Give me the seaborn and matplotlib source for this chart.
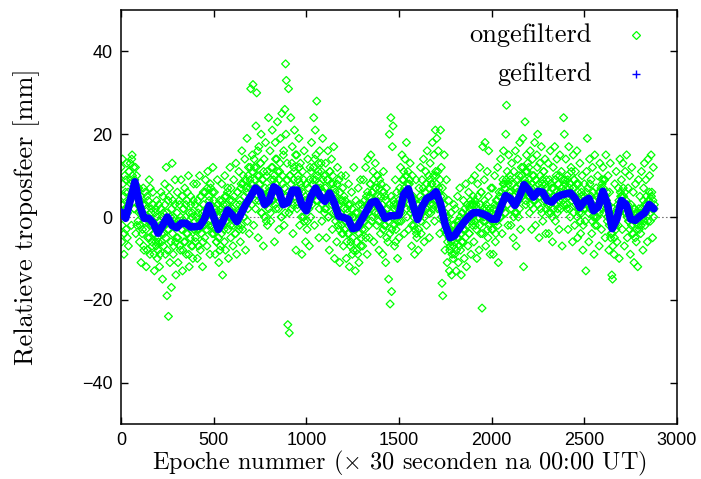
import numpy as np
import pandas as pd
import matplotlib
matplotlib.use("Agg")
import matplotlib.pyplot as plt
import seaborn as sns

# unfiltered troposphere values [mm], epochs 0, 4, 8, ... (one row per 100 epochs)
raw_rows_a = [
    [12, -6, 14, 3, -9, 10, 6, -3, 13, 1, -7, 11, 4, 9, -2, 15, 6, 12, 2, 8, -4, 10, 5, -1, 7],
    [-6, 4, -11, 1, -3, 7, -8, -1, 3, -12, 5, -5, 0, 9, -9, -2, 2, -7, 6, -4, -13, 1, -6, 4, -10],
    [-8, 3, -12, -2, 6, -6, -15, 1, -4, 8, -9, 12, -19, -3, -24, 5, -11, 0, -17, 13, 4, -7, -1, 9, -14],
    [-5, 6, -11, -1, 3, -8, 9, -3, -13, 2, -6, 7, 0, -9, 4, -4, 10, -12, -2, 5, -7, 1, -10, 8, -3],
    [3, -6, 8, -10, 1, -3, 10, -8, 5, -1, -12, 6, 0, -5, 9, 2, -7, 11, -2, 4, -9, 7, 1, -4, 12],
    [-4, 6, -9, 2, -6, 9, -2, -11, 4, -7, 1, 8, -14, 3, -3, 10, -8, 5, -1, 7, -10, 2, 12, -5, 0],
    [4, -7, 9, 1, -4, 13, -9, 6, -2, 11, 3, -6, 8, 16, -3, 10, 0, 14, -8, 7, 19, 2, 12, -4, 9],
    [31, 8, 15, 32, -2, 12, 4, 22, 30, 10, -5, 17, 6, 13, 20, 1, 9, -7, 14, 3, 18, -1, 11, 5, 24],
    [7, 16, -1, 12, 21, 4, 9, -6, 18, 2, 14, 23, 6, -3, 11, 19, 0, 25, 8, 15, -2, 26, 37, 33, 13],
    [-26, 31, -28, 10, 24, 2, 17, -4, 12, 21, 6, -8, 15, 3, 9, 19, -2, 13, 7, -9, 11, 0, 16, 4, -6],
    [8, -3, 14, 3, -7, 12, 0, 18, 5, 9, 24, -2, 21, 15, 28, 4, 11, -5, 16, 7, 13, -1, 19, 6, 10],
    [2, 13, -5, 9, 16, 0, -8, 11, 5, 14, -3, 8, 17, -10, 6, 1, -6, 12, -2, 9, -11, 4, 10, -4, 7],
    [-7, 5, -1, 10, -10, 2, -4, 8, -12, 3, -6, 6, -9, 0, 12, -3, -13, 4, -8, 1, 7, -11, -2, 9, -5],
    [3, -7, 9, 0, -3, 12, 5, -9, 14, 2, -5, 8, 15, -1, 6, 11, -6, 4, 13, 7, -2, 10, 1, -8, 9],
    [-4, 8, 1, -9, 11, -2, 5, -11, 7, 0, -6, -15, 20, -21, 24, -18, 17, 22, 3, -7, 9, -3, 6, -10, 2],
    [-5, 7, 12, -1, 15, 3, 9, -4, 14, 6, 18, 0, 11, -3, 8, 13, 2, -7, 10, 5, -2, -9, 4, 9, -5],
    [3, -8, 7, 0, 12, -4, 9, 2, 14, -6, 6, 11, -2, 16, 4, 10, -5, 13, 1, 8, 18, 3, 15, -1, 21],
    [10, 19, 2, 16, 7, -4, 21, 12, -16, -19, 5, 15, -8, 0, 9, -11, -3, 4, -13, -7, 1, -14, -2, -10, 3],
    [-9, 2, -13, -5, 5, -11, -1, 7, -8, -14, 1, -6, 4, -10, -3, 8, -12, 0, -7, 6, -4, 3, -9, 9, -2],
    [5, -6, 10, -2, 3, -10, 8, 0, -8, 12, -4, 6, -22, 17, -1, 9, 18, -7, 2, 11, -5, 16, 1, -9, 7],
    [-3, 7, -9, 2, 10, -6, 4, -1, 12, -11, 6, 0, 14, 3, -4, 9, 16, 8, 1, 20, 27, 11, -2, 15, 5],
    [9, -2, 13, 4, -5, 11, 1, 16, -7, 7, 14, 0, 10, 18, -3, 12, 6, 19, -12, 8, 23, 3, 15, 11, 5],
    [12, 1, 16, 7, -3, 14, 4, 10, 18, -2, 9, 15, 20, 6, -5, 13, 2, 17, 8, -1, 11, 5, 14, -4, 9],
    [3, 13, -4, 9, 16, 1, 7, -6, 12, 5, 17, -1, 10, 14, 2, 8, -3, 15, 6, 11, -7, 4, 24, 20, 9],
    [14, 2, 10, -3, 17, 7, 0, 12, 5, -6, 15, 9, -2, 11, 4, 16, -5, 8, 1, 13, -4, 6, 10, -8, 3],
    [8, -1, -13, 11, 19, 4, -6, 14, 2, 9, -4, 12, 6, -9, 15, 0, 7, -2, 10, 3, -7, 13, 5, -3, 8],
    [12, 1, 9, -5, 15, 4, -1, 10, -8, 6, 13, -4, -14, -15, 2, -9, 8, -2, 11, -6, 3, 7, -10, 14, 5],
    [9, -3, 13, 5, -7, 11, 1, 15, -5, 7, -1, 10, -9, 3, 12, -4, 6, -11, 2, 8, -6, 0, -12, 9, -3],
    [5, -4, 11, 1, -8, 7, 13, -2, 9, 3, -6, 14, 4, 10, -1, 15, 6, -5, 12, 2],
]

# unfiltered values at epochs 2, 6, 10, ...
raw_rows_b = [
    [3, -2, 8, 5, -4, 0, 9, 2, -5, 6, 11, 4, 13, 8, 14, 10, 6, 2, 9, 12, 5, -2, 7, 3, 1],
    [-2, 5, 1, -4, 3, -7, 0, 6, -3, 2, -8, 4, -1, -5, 7, 1, -6, -2, 3, -9, -4, 2, -7, 0, -5],
    [-6, -1, -9, 2, -4, 0, 5, -7, -2, 3, -5, 1, -8, 4, -3, 7, -1, -6, 2, -4, -9, 0, 3, -6, -2],
    [1, -5, -2, 4, -7, 0, -3, 5, -8, 2, -1, -6, 3, -4, 6, -2, -9, 1, -5, 3, 0, -7, 4, -3, -1],
    [-5, 0, -3, 4, -7, 2, -1, 5, -4, 1, -6, 3, -2, 6, 0, -3, 7, 2, 5, -1, 8, 3, -2, 6, 1],
    [4, -3, 1, -6, -1, 3, -5, 0, -8, 2, -4, 4, -2, 1, -6, 5, -1, 3, 6, -3, 0, 4, -2, 7, 1],
    [2, -2, 5, 0, -4, 3, -1, 6, 1, -3, 4, 7, -2, 2, 8, 0, 5, 9, 3, 6, -1, 10, 4, 7, 12],
    [8, 3, 11, 6, 14, 9, 2, 12, 7, 16, 4, 10, 8, 13, 1, 9, 5, 11, 0, 7, 3, 10, -2, 6, 2],
    [6, 1, 9, 4, 12, 7, 10, 3, 14, 8, 5, 11, 2, 9, 13, 6, 0, 10, 4, 16, 7, 1, 20, 5, 9],
    [6, 1, 10, 4, 8, 13, 3, 9, 11, 5, 15, 7, 2, 10, 6, 12, 4, 8, 0, 6, 3, 9, -1, 5, 2],
    [4, -1, 7, 2, 9, 5, 11, 3, 8, 12, 6, 14, 9, 4, 10, 7, 13, 2, 8, 5, 11, 3, 9, 6, 1],
    [7, 2, 5, 9, 0, 6, 11, 4, 8, 3, 10, 1, 7, 5, -1, 4, 8, 0, 3, -3, 6, 1, -2, 4, -4],
    [2, -3, 4, -1, -6, 1, 3, -4, 0, -7, -2, 2, -5, -8, 0, -3, 1, -6, -2, -9, 3, -4, -1, -7, 0],
    [-3, 2, -1, 4, 0, -5, 3, 6, 1, -2, 5, 8, 2, 6, 0, 9, 4, 1, 7, 3, 10, 5, -1, 7, 2],
    [5, 0, 3, -3, 6, 1, -2, 4, -5, 2, -1, 3, -4, 1, 5, -3, 0, 4, -2, 2, -6, 3, -1, 1, 4],
    [-1, 3, 1, 6, 9, 4, 11, 7, 5, 10, 2, 8, 6, 3, 9, 1, 5, -2, 4, 0, 2, -3, 1, -4, 3],
    [0, -3, 2, 5, -1, 4, 1, 7, 3, 0, 6, 2, 8, 4, 1, 7, 9, 3, 5, 8, 2, 10, 6, 4, 11],
    [8, 4, 11, 6, 2, 9, 5, 0, 7, -1, 3, -3, 1, -4, -1, -6, 0, -5, -8, -3, -6, -9, -4, -7, -2],
    [-6, -3, -8, -1, -5, -2, -7, 0, -4, -6, 1, -3, -1, 2, -5, 0, 3, -2, 1, -4, 2, 4, -1, 3, 0],
    [3, -1, 4, 1, -3, 2, 5, 0, -2, 3, 6, 1, -4, 2, 0, 4, -1, 3, 1, -3, 5, -2, 2, 0, -1],
    [1, -3, 2, -1, 3, -4, 0, 4, -2, 1, 5, 3, 0, 6, 2, 8, 4, 7, 1, 9, 5, 3, 8, 6, 10],
    [6, 2, 8, 4, 0, 5, 3, 7, 1, 6, 9, 4, 2, 8, 6, 10, 5, 12, 7, 9, 4, 11, 8, 13, 6],
    [9, 5, 3, 8, 6, 10, 2, 7, 4, 9, 6, 12, 3, 8, 5, 10, 7, 1, 9, 6, 11, 4, 8, 2, 7],
    [5, 1, 6, 3, 8, 4, 0, 7, 2, 5, 9, 3, 6, 1, 8, 4, 10, 6, 2, 7, 5, 9, 3, 8, 6],
    [7, 3, 9, 5, 2, 8, 6, 11, 4, 7, 1, 9, 5, 3, 8, 0, 6, 2, 4, -1, 5, 1, 3, -2, 2],
    [5, 2, 6, 3, 7, 1, 4, 8, 2, 5, -1, 3, 0, 4, -2, 2, 5, 0, 3, 6, 1, 4, 7, 2, 9],
    [7, 4, 9, 5, 2, 6, 0, 3, -2, 1, -5, -1, -4, -7, -2, -5, 1, -3, 0, 2, -2, 4, 1, 6, 3],
    [5, 2, 7, 3, 6, 1, 4, 0, 3, -1, 2, -3, 1, -2, 0, -4, 2, -1, -5, 1, -3, 0, -2, 2, -1],
    [1, -2, 2, 0, 4, -1, 3, 1, 5, 2, -1, 4, 6, 3, 1, 5, 2, 4, 0, 3],
]

# filtered curve [mm], one value every 25 epochs
filt_values = [
    1.2, -0.3, 4, 8.5, 3, -0.3, -0.3, -1.5, -3.9, -2, 0, -2, -2.6, -1.5, -1.5, -2.4,
    -2.3, -2.2, -0.5, 2.8, 0, -3, -1, 1.7, 0.5, -1.1, 1, 3.2, 5, 7, 6, 3,
    4, 7.3, 6.5, 3, 3.5, 6.5, 6.5, 3, 1.5, 5, 7, 5, 3.8, 5.8, 3.5, 0.2,
    -0.1, -0.5, -2.8, -2.5, -0.5, 1.5, 3.5, 3.8, 2, -0.3, 0.3, 0.3, 0.5, 5.5, 6.8, 3,
    -0.6, 2.5, 4.5, 5, 6.1, 3, -2, -5, -4.5, -2.8, -1.3, 0, 1, 1.1, 0.8, 0.3,
    -0.5, -0.5, 2.5, 5.2, 4.5, 2.8, 5, 7.8, 6.5, 4.8, 6.2, 6, 4, 3.6, 4.8, 5.3,
    5.6, 5.8, 4.5, 2.3, 3.8, 4.5, 1.5, 2.5, 6.2, 3, -2.8, -0.5, 4, 3, -0.5, -0.8,
    0.2, 1, 3, 2,
]

xticks = [0, 500, 1000, 1500, 2000, 2500, 3000]
yticks = [-40, -20, 0, 20, 40]
labels = ["ongefilterd", "gefilterd"]

vals_a = [v for row in raw_rows_a for v in row]
vals_b = [v for row in raw_rows_b for v in row]
raw_df = pd.DataFrame({
    "epoch": np.concatenate([np.arange(0, 4 * len(vals_a), 4),
                             np.arange(2, 4 * len(vals_b) + 2, 4)]),
    "value": vals_a + vals_b,
})
filt_df = pd.DataFrame({"epoch": np.arange(0, 25 * len(filt_values), 25),
                        "value": filt_values})

plt.rcParams["xtick.direction"] = "in"
plt.rcParams["ytick.direction"] = "in"
plt.rcParams["mathtext.fontset"] = "cm"

fig = plt.figure(figsize=(7.01, 4.79), dpi=100)
ax = fig.add_axes([0.1726, 0.1148, 0.7932, 0.8642])

ax.axhline(0, color="#777777", ls=(0, (1.5, 2)), lw=0.8, zorder=0)

sns.scatterplot(data=raw_df, x="epoch", y="value", ax=ax, marker="D", s=16,
                facecolors="none", edgecolor="#00ff00", linewidth=0.9, zorder=2)
sns.lineplot(data=filt_df, x="epoch", y="value", ax=ax, color="#0000ff",
             lw=5.5, zorder=3, solid_joinstyle="round", solid_capstyle="round")

ax.set_xlim(0, 3000)
ax.set_ylim(-50, 50)
ax.set_xticks(xticks)
ax.set_yticks(yticks)
ax.tick_params(top=True, right=True, length=5, width=1, labelsize=13, pad=6)
for t in ax.get_xticklabels() + ax.get_yticklabels():
    t.set_fontfamily("Liberation Sans")
for s in ax.spines.values():
    s.set_linewidth(1.1)

ax.set_xlabel(r"Epoche nummer ($\times$ 30 seconden na 00:00 UT)",
              fontfamily="cmr10", fontsize=17.5, labelpad=0)
ax.set_ylabel("Relatieve troposfeer [mm]", fontfamily="cmr10", fontsize=19,
              labelpad=30)

# gnuplot-style key: text right aligned, sample to the right
ax.text(0.847, 0.94, labels[0], transform=ax.transAxes, ha="right", va="center",
        fontfamily="cmr10", fontsize=19)
ax.text(0.847, 0.845, labels[1], transform=ax.transAxes, ha="right", va="center",
        fontfamily="cmr10", fontsize=19)
ax.plot([0.926], [0.94], transform=ax.transAxes, marker="D", ms=4,
        mfc="none", mec="#00ff00", mew=0.9, ls="none")
ax.plot([0.926], [0.845], transform=ax.transAxes, marker="+", ms=6,
        color="#0000ff", mew=1, ls="none")

fig.savefig("out.png", dpi=100)
